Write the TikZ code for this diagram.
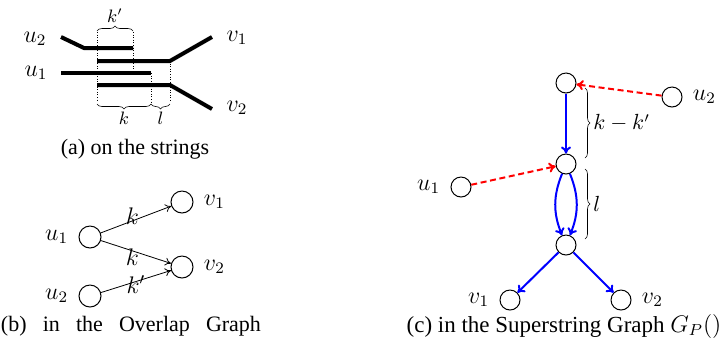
\documentclass[tikz,border=0pt]{standalone}
\usepackage{fontspec}
\setmainfont{Liberation Serif}
\usetikzlibrary{arrows.meta,decorations.pathreplacing,calc,positioning}
\tikzset{vtx/.style={circle,draw,minimum size=11pt,inner sep=0pt,line width=0.5pt},
  strand/.style={line width=2pt},
  guide/.style={densely dotted,line width=0.3pt},
  brc/.style={decorate,decoration={brace,amplitude=2.5pt},line width=0.3pt},
  ovl/.style={-{To[length=3pt,width=4pt]},line width=0.4pt},
  walk/.style={-{To[length=3.5pt,width=5pt]},blue,line width=1pt},
  ins/.style={-{To[length=3.5pt,width=5pt]},red,line width=1pt,dash pattern=on 3pt off 1.8pt},
  lbl/.style={font=\fontsize{12}{14}\selectfont,inner sep=1pt},
  mlbl/.style={font=\fontsize{10.5}{12}\selectfont,inner sep=1pt},
  sml/.style={font=\fontsize{9}{10}\selectfont,inner sep=1pt},
  captxt/.style={font=\fontsize{11}{13}\selectfont,inner sep=0pt}}

\begin{document}
\begin{tikzpicture}[x=0.5pt,y=-0.5pt]
\useasboundingbox (0,0) rectangle (722,350);
% (a) strings
\draw[strand] (61,37)--(84,48)--(133,48);
\draw[strand] (97,61)--(170,61)--(212,37);
\draw[strand] (61,73)--(151,73);
\draw[strand] (97,85)--(170,85)--(212,109);
\draw[guide] (97,32)--(97,102) (133,32)--(133,73) (151,73)--(151,102) (170,61)--(170,102);
\draw[brc] (97,31)--(133,31) node[midway,above=3pt,sml] (kp) {$k'$};
\draw[brc] (151,104)--(97,104) node[midway,below=3pt,sml] (ka) {$k$};
\draw[brc] (170,104)--(151,104) node[midway,below=3pt,sml] (la) {$l$};
\node[lbl] (au2) at (35,39) {$u_2$};
\node[lbl] (au1) at (36,73) {$u_1$};
\node[lbl] (av1) at (237,38) {$v_1$};
\node[lbl] (av2) at (237,108) {$v_2$};
\node[captxt] (capa) at (135,149) {(a) on the strings};
% (b) overlap graph
\node[vtx] (bu1) at (90,237) {};
\node[vtx] (bu2) at (90,296) {};
\node[vtx] (bv1) at (182,202) {};
\node[vtx] (bv2) at (182,267) {};
\node[lbl,left=4pt of bu1] {$u_1$};
\node[lbl,left=4pt of bu2] {$u_2$};
\node[lbl,right=4pt of bv1] {$v_1$};
\node[lbl,right=4pt of bv2] {$v_2$};
\draw[ovl] (bu1)--(bv1) node[lbl,pos=0.45,above=-3pt] {$k$};
\draw[ovl] (bu1)--(bv2) node[lbl,pos=0.45,below=-2pt] {$k$};
\draw[ovl] (bu2)--(bv2) node[lbl,pos=0.5,below=-4pt] {$k'$};
\node[captxt] (capb) at (131,326) {\makebox[130pt][s]{(b) in the Overlap Graph}};
% (c) superstring graph
\node[vtx,minimum size=10pt] (top) at (566,83) {};
\node[vtx,minimum size=10pt] (mid) at (566,164) {};
\node[vtx,minimum size=10pt] (bot) at (566,245) {};
\node[vtx,minimum size=10pt] (cu2) at (672,97) {};
\node[vtx,minimum size=10pt] (cu1) at (461,187) {};
\node[vtx,minimum size=10pt] (cv1) at (510,300) {};
\node[vtx,minimum size=10pt] (cv2) at (621,300) {};
\node[lbl,right=4pt of cu2] {$u_2$};
\node[lbl,left=4pt of cu1] {$u_1$};
\node[lbl,left=4pt of cv1] {$v_1$};
\node[lbl,right=4pt of cv2] {$v_2$};
\draw[walk] (top)--(mid);
\draw[walk] (mid) to[bend right=22] (bot);
\draw[walk] (mid) to[bend left=22] (bot);
\draw[walk] (bot)--(cv1);
\draw[walk] (bot)--(cv2);
\draw[ins] (cu2)--(top);
\draw[ins] (cu1)--(mid);
\draw[brc] (585,88)--(585,158) node[midway,right=3pt,mlbl] (kk) {$k-k'$};
\draw[brc] (585,169)--(585,239) node[midway,right=3pt,mlbl] (lc) {$l$};
\node[captxt,font=\fontsize{11.5}{13}\selectfont] (capc) at (564,326) {(c) in the Superstring Graph $G_P()$};
\end{tikzpicture}
\end{document}
